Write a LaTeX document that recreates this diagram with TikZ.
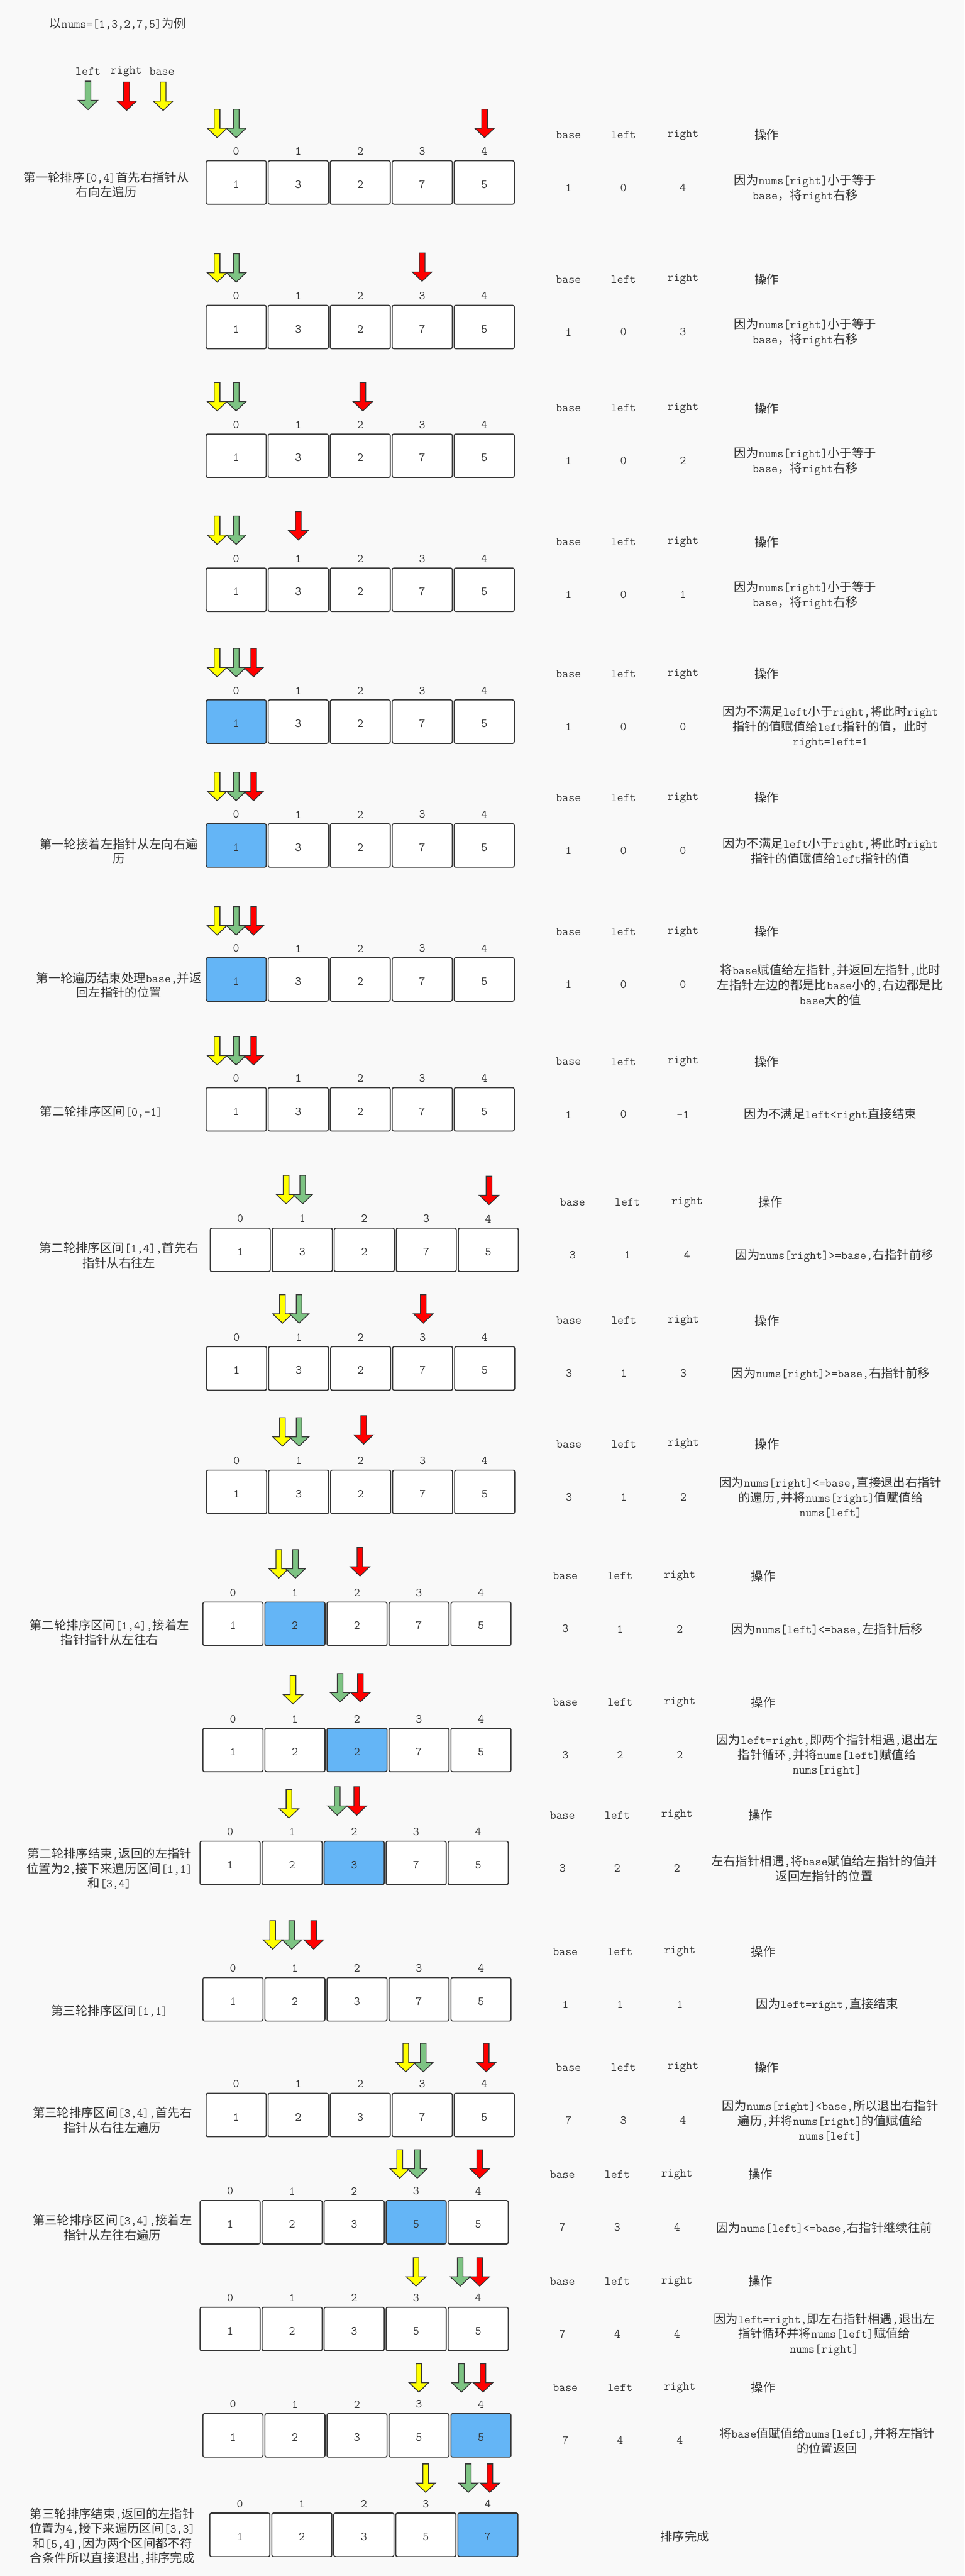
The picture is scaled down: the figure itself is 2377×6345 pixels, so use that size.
\documentclass[tikz,border=0pt]{standalone}
\usepackage{fontspec}
\newfontfamily\cjkf{Noto Sans CJK SC}
\XeTeXinterchartokenstate=1
\newXeTeXintercharclass\CJKcls
\newcount\cjkcnt
\cjkcnt="3000
\loop
  \XeTeXcharclass\cjkcnt=\CJKcls
  \advance\cjkcnt by 1
\ifnum\cjkcnt<"A000 \repeat
\cjkcnt="FF00
\loop
  \XeTeXcharclass\cjkcnt=\CJKcls
  \advance\cjkcnt by 1
\ifnum\cjkcnt<"FFF0 \repeat
\XeTeXinterchartoks 0 \CJKcls = {\cjkf}
\XeTeXinterchartoks 4095 \CJKcls = {\cjkf}
\XeTeXinterchartoks \CJKcls 0 = {\ttfamily}
\XeTeXinterchartoks 4095 0 = {\ttfamily}
\definecolor{ink}{HTML}{333333}
\definecolor{cy}{HTML}{FFFF00}
\definecolor{cg}{HTML}{7DC383}
\definecolor{cr}{HTML}{FF0000}
\definecolor{cellblue}{HTML}{64B5F6}
\definecolor{bgc}{HTML}{F9F9F9}
\tikzset{
  txt/.style={font=\cjkf\fontsize{30pt}{36.5pt}\selectfont, text=ink, inner sep=0pt, align=center},
  cell/.style={txt, draw=ink, line width=2.5pt, rounded corners=4pt, minimum width=148pt, minimum height=107pt, text height=28pt, text depth=0pt},
  ptr/.style={draw=ink, line width=2pt, line join=miter}
}
\newcommand\Cells[5]{%
  \foreach \v [count=\i from 0] in {#4}{%
    \pgfmathsetmacro\cx{#2+74+152.8*\i}%
    \ifnum\i=#5\relax \def\cf{cellblue}\else\def\cf{white}\fi
    \node[cell, fill=\cf] (c#1n\i) at (\cx,#3+53.5) {\v};
    \node[txt] (c#1i\i) at (\cx,#3-23) {\i};
  }}
\newcommand\Parr[3]{\draw[ptr, fill=#1] (#2-7,#3-70) -- (#2+7,#3-70) -- (#2+7,#3-23) -- (#2+24,#3-23) -- (#2,#3) -- (#2-24,#3-23) -- (#2-7,#3-23) -- cycle;}
\newcommand\Tbl[6]{%
  \node[txt] (t#1hb) at (#2+893,#3-64) {base};
  \node[txt] (t#1hl) at (#2+1028,#3-64) {left};
  \node[txt] (t#1hr) at (#2+1175,#3-64) {right};
  \node[txt] (t#1ho) at (#2+1381,#3-64) {操作};
  \node[txt] (t#1vb) at (#2+893,#3+66) {#4};
  \node[txt] (t#1vl) at (#2+1028,#3+66) {#5};
  \node[txt] (t#1vr) at (#2+1175,#3+66) {#6};
}
\begin{document}
\begin{tikzpicture}[x=1pt,y=-1pt]
\useasboundingbox (0,0) rectangle (2377,6345);
\fill[bgc] (0,0) rectangle (2377,6345);

\node[txt, anchor=west] (title) at (121,58) {以nums=[1,3,2,7,5]为例};
\node[txt] (lgl) at (217,176) {left};
\node[txt] (lgr) at (311,176) {right};
\node[txt] (lgb) at (399,176) {base};
\Parr{cg}{217}{270}
\Parr{cr}{312}{272}
\Parr{cy}{402}{272}

% Row 1
\Cells{1}{508}{396}{1,3,2,7,5}{-1}
\Parr{cy}{535}{339}\Parr{cg}{582}{339}\Parr{cr}{1194}{339}
\Tbl{1}{508}{396}{1}{0}{4}
\node[txt] (op1) at (1984,464) {因为nums[right]小于等于\\base，将right右移};
\node[txt] (lab1) at (262,455) {第一轮排序[0,4]首先右指针从\\右向左遍历};

% Row 2
\Cells{2}{508}{752}{1,3,2,7,5}{-1}
\Parr{cy}{535}{695}\Parr{cg}{582}{695}\Parr{cr}{1040}{693}
\Tbl{2}{508}{752}{1}{0}{3}
\node[txt] (op2) at (1984,819) {因为nums[right]小于等于\\base，将right右移};

% Row 3
\Cells{3}{508}{1069}{1,3,2,7,5}{-1}
\Parr{cy}{535}{1012}\Parr{cg}{582}{1012}\Parr{cr}{894}{1012}
\Tbl{3}{508}{1069}{1}{0}{2}
\node[txt] (op3) at (1984,1136) {因为nums[right]小于等于\\base，将right右移};

% Row 4
\Cells{4}{508}{1399}{1,3,2,7,5}{-1}
\Parr{cy}{535}{1341}\Parr{cg}{582}{1341}\Parr{cr}{735}{1330}
\Tbl{4}{508}{1399}{1}{0}{1}
\node[txt] (op4) at (1984,1466) {因为nums[right]小于等于\\base，将right右移};

% Row 5
\Cells{5}{508}{1724}{1,3,2,7,5}{0}
\Parr{cy}{535}{1667}\Parr{cg}{582}{1667}\Parr{cr}{625}{1667}
\Tbl{5}{508}{1724}{1}{0}{0}
\node[txt] (op5) at (2046,1791) {因为不满足left小于right,将此时right\\指针的值赋值给left指针的值，此时\\right=left=1};

% Row 6
\Cells{6}{508}{2029}{1,3,2,7,5}{0}
\Parr{cy}{535}{1972}\Parr{cg}{582}{1972}\Parr{cr}{625}{1972}
\Tbl{6}{508}{2029}{1}{0}{0}
\node[txt] (op6) at (2046,2096) {因为不满足left小于right,将此时right\\指针的值赋值给left指针的值};
\node[txt] (lab6) at (293,2097) {第一轮接着左指针从左向右遍\\历};

% Row 7
\Cells{7}{508}{2359}{1,3,2,7,5}{0}
\Parr{cy}{535}{2303}\Parr{cg}{582}{2303}\Parr{cr}{625}{2303}
\Tbl{7}{508}{2359}{1}{0}{0}
\node[txt] (op7) at (2046,2426) {将base赋值给左指针,并返回左指针,此时\\左指针左边的都是比base小的,右边都是比\\base大的值};
\node[txt] (lab7) at (293,2427) {第一轮遍历结束处理base,并返\\回左指针的位置};

% Row 8
\Cells{8}{508}{2679}{1,3,2,7,5}{-1}
\Parr{cy}{535}{2623}\Parr{cg}{582}{2623}\Parr{cr}{625}{2623}
\Tbl{8}{508}{2679}{1}{0}{-1}
\node[txt] (op8) at (2046,2746) {因为不满足left<right直接结束};
\node[txt] (lab8) at (250,2738) {第二轮排序区间[0,-1]};

% Row 9
\Cells{9}{518}{3025}{1,3,2,7,5}{-1}
\Parr{cy}{705}{2965}\Parr{cg}{746}{2965}\Parr{cr}{1205}{2967}
\Tbl{9}{518}{3025}{3}{1}{4}
\node[txt] (op9) at (2056,3092) {因为nums[right]>=base,右指针前移};
\node[txt] (lab9) at (293,3092) {第二轮排序区间[1,4],首先右\\指针从右往左};

% Row 10
\Cells{10}{509}{3317}{1,3,2,7,5}{-1}
\Parr{cy}{696}{3259}\Parr{cg}{737}{3259}\Parr{cr}{1043}{3259}
\Tbl{10}{509}{3317}{3}{1}{3}
\node[txt] (op10) at (2047,3384) {因为nums[right]>=base,右指针前移};

% Row 11
\Cells{11}{509}{3621}{1,3,2,7,5}{-1}
\Parr{cy}{696}{3562}\Parr{cg}{737}{3562}\Parr{cr}{896}{3557}
\Tbl{11}{509}{3621}{3}{1}{2}
\node[txt] (op11) at (2047,3688) {因为nums[right]<=base,直接退出右指针\\的遍历,并将nums[right]值赋值给\\nums[left]};

% Row 12
\Cells{12}{500}{3946}{1,2,2,7,5}{1}
\Parr{cy}{687}{3887}\Parr{cg}{728}{3887}\Parr{cr}{887}{3882}
\Tbl{12}{500}{3946}{3}{1}{2}
\node[txt] (op12) at (2038,4013) {因为nums[left]<=base,左指针后移};
\node[txt] (lab12) at (270,4021) {第二轮排序区间[1,4],接着左\\指针指针从左往右};

% Row 13
\Cells{13}{500}{4257}{1,2,2,7,5}{2}
\Parr{cy}{722}{4197}\Parr{cg}{838}{4192}\Parr{cr}{888}{4192}
\Tbl{13}{500}{4257}{3}{2}{2}
\node[txt] (op13) at (2038,4324) {因为left=right,即两个指针相遇,退出左\\指针循环,并将nums[left]赋值给\\nums[right]};

% Row 14
\Cells{14}{493}{4535}{1,2,3,7,5}{2}
\Parr{cy}{712}{4478}\Parr{cg}{831}{4471}\Parr{cr}{879}{4471}
\Tbl{14}{493}{4535}{3}{2}{2}
\node[txt] (op14) at (2031,4602) {左右指针相遇,将base赋值给左指针的值并\\返回左指针的位置};
\node[txt] (lab14) at (270,4603) {第二轮排序结束,返回的左指针\\位置为2,接下来遍历区间[1,1]\\和[3,4]};

% Row 15
\Cells{15}{500}{4871}{1,2,3,7,5}{-1}
\Parr{cy}{672}{4801}\Parr{cg}{719}{4801}\Parr{cr}{773}{4801}
\Tbl{15}{500}{4871}{1}{1}{1}
\node[txt] (op15) at (2038,4938) {因为left=right,直接结束};
\node[txt] (lab15) at (270,4953) {第三轮排序区间[1,1]};

% Row 16
\Cells{16}{508}{5156}{1,2,3,7,5}{-1}
\Parr{cy}{1000}{5103}\Parr{cg}{1043}{5103}\Parr{cr}{1198}{5103}
\Tbl{16}{508}{5156}{7}{3}{4}
\node[txt] (op16) at (2046,5223) {因为nums[right]<base,所以退出右指针\\遍历,并将nums[right]的值赋值给\\nums[left]};
\node[txt] (lab16) at (277,5222) {第三轮排序区间[3,4],首先右\\指针从右往左遍历};

% Row 17
\Cells{17}{493}{5420}{1,2,3,5,5}{3}
\Parr{cy}{985}{5365}\Parr{cg}{1028}{5365}\Parr{cr}{1182}{5365}
\Tbl{17}{493}{5420}{7}{3}{4}
\node[txt] (op17) at (2031,5487) {因为nums[left]<=base,右指针继续往前};
\node[txt] (lab17) at (277,5487) {第三轮排序区间[3,4],接着左\\指针从左往右遍历};

% Row 18
\Cells{18}{493}{5683}{1,2,3,5,5}{-1}
\Parr{cy}{1025}{5631}\Parr{cg}{1134}{5631}\Parr{cr}{1182}{5631}
\Tbl{18}{493}{5683}{7}{4}{4}
\node[txt] (op18) at (2031,5750) {因为left=right,即左右指针相遇,退出左\\指针循环并将nums[left]赋值给\\nums[right]};

% Row 19
\Cells{19}{500}{5945}{1,2,3,5,5}{4}
\Parr{cy}{1032}{5892}\Parr{cg}{1137}{5892}\Parr{cr}{1190}{5892}
\Tbl{19}{500}{5945}{7}{4}{4}
\node[txt] (op19) at (2038,6012) {将base值赋值给nums[left],并将左指针\\的位置返回};

% Row 20
\Cells{20}{517}{6190}{1,2,3,5,7}{4}
\Parr{cy}{1049}{6139}\Parr{cg}{1154}{6139}\Parr{cr}{1207}{6139}
\node[txt] (done) at (1687,6247) {排序完成};
\node[txt] (lab20) at (277,6247) {第三轮排序结束,返回的左指针\\位置为4,接下来遍历区间[3,3]\\和[5,4],因为两个区间都不符\\合条件所以直接退出,排序完成};
\end{tikzpicture}
\end{document}
